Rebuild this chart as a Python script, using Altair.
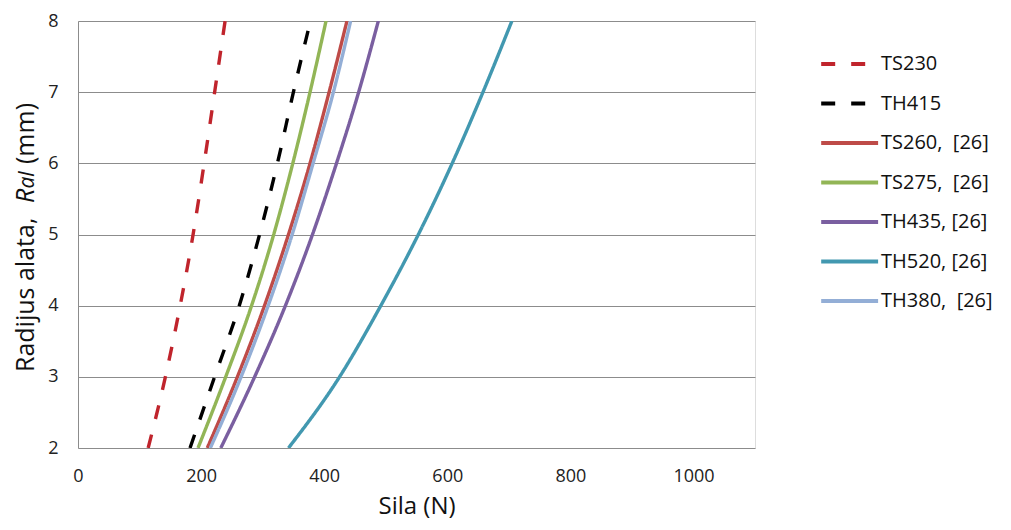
import altair as alt
import pandas as pd

series_names = ["TS230", "TH415", "TS260", "TS275", "TH435", "TH520", "TH380"]
legend_labels = ["TS230", "\u00a0TH415", "TS260,\u00a0\u00a0[26]", "TS275,\u00a0\u00a0[26]",
                 "TH435, [26]", "TH520, [26]", "TH380,\u00a0\u00a0[26]"]
colors = ["#C0242C", "#000000", "#BE4B48", "#92B556", "#7A5FA0", "#4298B0", "#93AED6"]
dashes = [[14, 16], [14, 16], [1, 0], [1, 0], [1, 0], [1, 0], [1, 0]]

radius = [2, 3, 4, 5, 6, 7, 8]
radius_th415 = [2, 3, 4, 5, 6, 7, 7.87]

force_ts230 = [114, 142, 166, 187, 205, 222, 239]
force_th415 = [182, 222, 262, 295, 324, 350, 374]
force_ts260 = [210, 259, 303, 342, 377, 408, 437]
force_ts275 = [195, 240, 282, 318, 349, 377, 403]
force_th435 = [232, 287, 337, 381, 420, 456, 488]
force_th520 = [342, 425, 492, 553, 608, 658, 705]
force_th380 = [215, 265, 309, 348, 382, 415, 443]

x_ticks = [0, 200, 400, 600, 800, 1000]
y_ticks = [2, 3, 4, 5, 6, 7, 8]

y_title_parts = ["Radijus alata, ", "R", "al", "(mm)"]

forces = [force_ts230, force_th415, force_ts260, force_ts275, force_th435, force_th520, force_th380]
radii = [radius, radius_th415, radius, radius, radius, radius, radius]

rows = []
for name, lab, f, r in zip(series_names, legend_labels, forces, radii):
    for fv, rv in zip(f, r):
        rows.append({"series": lab, "F": fv, "R": rv})
df = pd.DataFrame(rows)

FONT = "Open Sans"

legend_cfg = dict(title=None, orient="none", legendX=741, legendY=25,
                  symbolType="M-1,0L2.6,0", symbolSize=1000,
                  symbolStrokeWidth=4, labelFont=FONT,
                  labelFontSize=20, labelColor="#111111",
                  labelOffset=26, rowPadding=11.5, labelLimit=300)

lines = alt.Chart(df).mark_line(strokeWidth=3.4, interpolate="monotone", clip=True).encode(
    x=alt.X("F:Q", scale=alt.Scale(domain=[0, 1100], nice=False, zero=False),
            axis=alt.Axis(values=x_ticks, format="d", grid=False, domain=False, ticks=False,
                          labelFlush=False,
                          labelFontSize=18, labelFont=FONT, labelColor="#222222",
                          labelPadding=19, title="Sila (N)", titleFont=FONT,
                          titleFontSize=24, titleFontWeight="normal", titleColor="#111111",
                          titlePadding=9)),
    y=alt.Y("R:Q", scale=alt.Scale(domain=[2, 8], nice=False, zero=False),
            axis=alt.Axis(values=y_ticks, grid=True, gridColor="#8c8c8c", gridWidth=1,
                          domain=True, domainColor="#8c8c8c", domainWidth=1, ticks=False,
                          labelFlush=False,
                          labelFontSize=18, labelFont=FONT, labelColor="#222222",
                          labelPadding=20, title=None)),
    color=alt.Color("series:N", sort=legend_labels,
                    scale=alt.Scale(domain=legend_labels, range=colors),
                    legend=alt.Legend(**legend_cfg)),
    strokeDash=alt.StrokeDash("series:N", sort=legend_labels,
                              scale=alt.Scale(domain=legend_labels, range=dashes),
                              legend=alt.Legend(**legend_cfg)),
    order=alt.Order("R:Q"),
)

src = pd.DataFrame({"t": y_title_parts})

def title_piece(idx, ypos, style, size):
    return alt.Chart(src).transform_filter(
        alt.datum.t == y_title_parts[idx]
    ).mark_text(angle=270, align="left", baseline="alphabetic", font=FONT,
                fontSize=size, fontStyle=style, color="#111111").encode(
        x=alt.value(-44), y=alt.value(ypos), text="t:N")

t0 = title_piece(0, 351, "normal", 25)
t1 = title_piece(1, 182, "italic", 25)
t2 = title_piece(2, 167.5, "italic", 21)
t3 = title_piece(3, 143, "normal", 25)

chart = alt.layer(lines, t0, t1, t2, t3).properties(
    width=677, height=427,
    autosize=alt.AutoSizeParams(type="none"),
    padding={"left": 70, "top": 13, "right": 248, "bottom": 74},
).configure_view(stroke=None).configure(background="white")

chart.save("out.html", embed_options={"renderer": "svg", "actions": False})
